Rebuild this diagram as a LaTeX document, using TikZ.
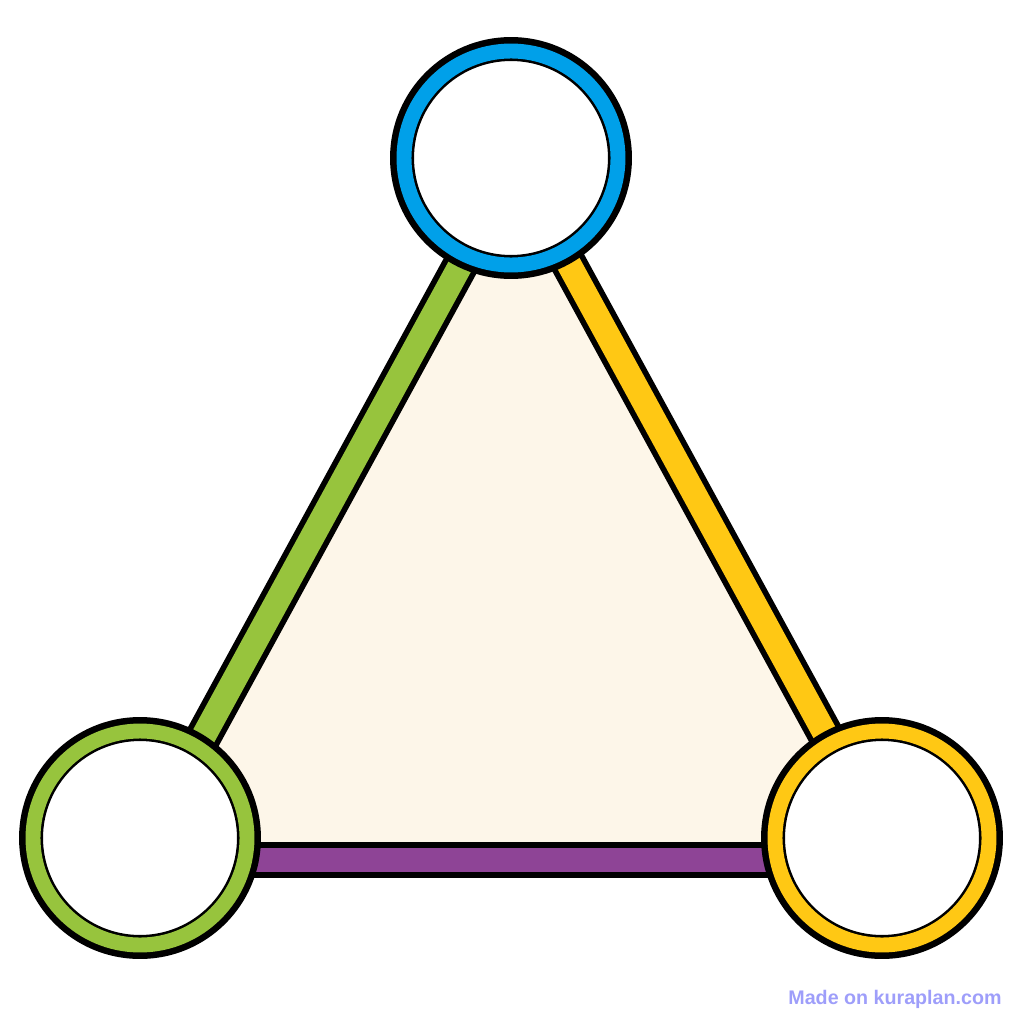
\documentclass[tikz,border=0pt]{standalone}
\usepackage{fontspec}
\newfontfamily\markfont{Liberation Sans}
\usetikzlibrary{backgrounds}
\definecolor{hubblue}{RGB}{0,160,233}
\definecolor{leafgreen}{RGB}{151,196,61}
\definecolor{sunyellow}{RGB}{255,200,20}
\definecolor{plum}{RGB}{142,68,150}
\definecolor{cream}{RGB}{253,246,233}
\definecolor{markblue}{RGB}{158,158,250}

\begin{document}
\begin{tikzpicture}
[x=0.02cm,y=-0.02cm,
hub/.style={shape=circle,draw=black,fill=white,line width=13.66pt,minimum size=4.36cm,inner sep=0pt},
rim/.style={line width=8.5pt},
bandout/.style={draw=black,line width=20.5pt},
bandin/.style={line width=14pt}]

\useasboundingbox (0,0) rectangle (1024,1024);

\node (vtop) [hub] at (511,158) {};
\node (vleft) [hub] at (140,838) {};
\node (vright) [hub] at (882,838) {};
\draw[rim,draw=hubblue] (vtop.center) circle (107);
\draw[rim,draw=leafgreen] (vleft.center) circle (107);
\draw[rim,draw=sunyellow] (vright.center) circle (107);

\coordinate (bl) at (140,860);
\coordinate (br) at (882,860);

\begin{scope}[on background layer]
\fill[cream] (vtop.center) -- (bl) -- (br) -- cycle;
\draw[bandout] ([xshift=0.16cm]vtop.center) -- ([xshift=0.16cm]vleft.center);
\draw[bandin,draw=leafgreen] ([xshift=0.16cm]vtop.center) -- ([xshift=0.16cm]vleft.center);
\draw[bandout] (vtop.center) -- (vright.center);
\draw[bandin,draw=sunyellow] (vtop.center) -- (vright.center);
\draw[bandout] (bl) -- (br);
\draw[bandin,draw=plum] (bl) -- (br);
\end{scope}

\node (mark) [text=markblue,font=\markfont\bfseries\fontsize{11.2}{13}\selectfont] at (895,999) {Made on kuraplan.com};

\end{tikzpicture}
\end{document}
